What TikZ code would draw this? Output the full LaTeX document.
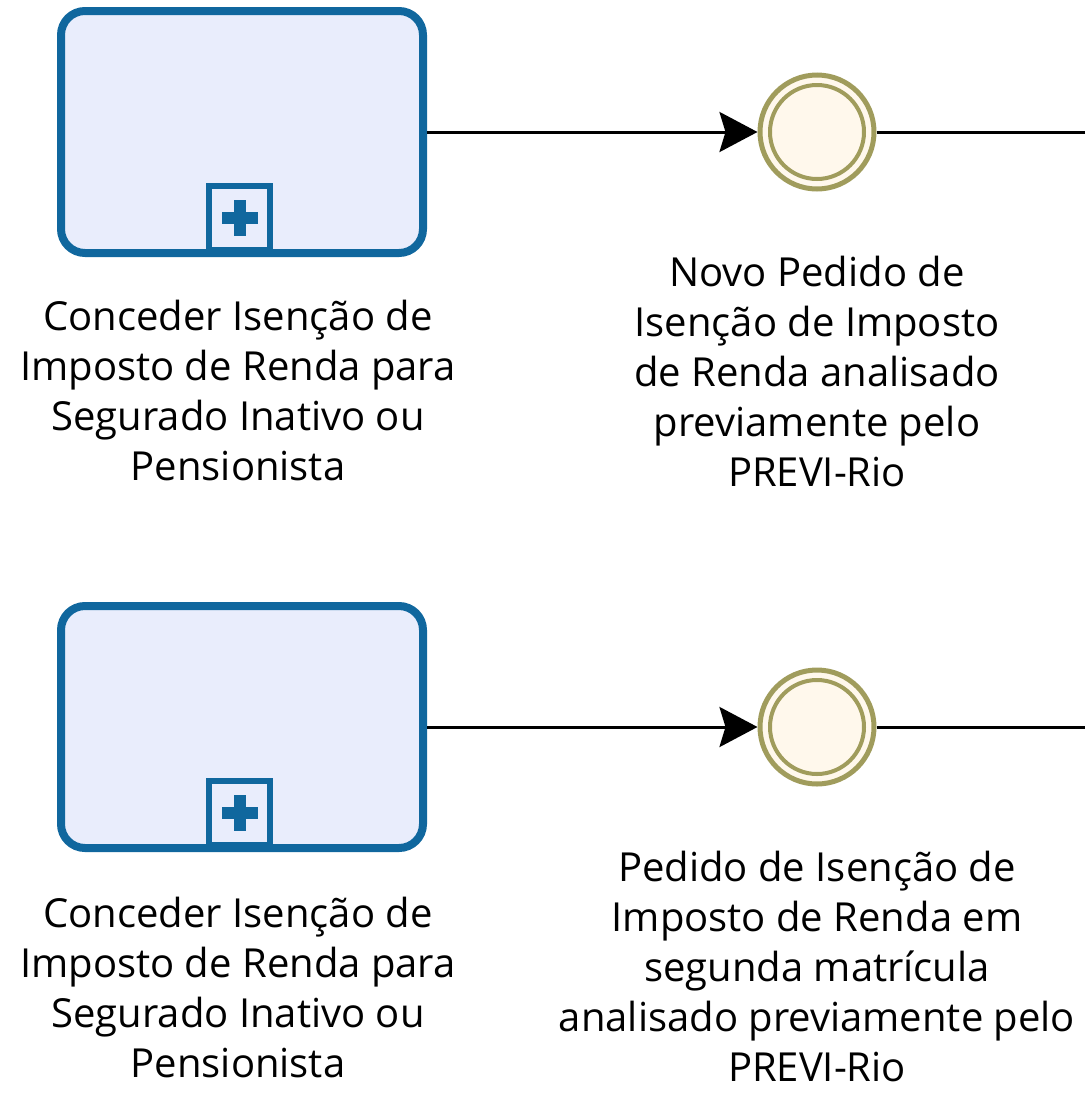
\documentclass[tikz,border=0pt]{standalone}
\usepackage{fontspec}
\setmainfont{Open Sans}
\usetikzlibrary{arrows.meta}
\definecolor{taskfill}{HTML}{E9EDFC}
\definecolor{taskline}{HTML}{10679E}
\definecolor{evfill}{HTML}{FFF8EC}
\definecolor{evline}{HTML}{A09C5C}
\begin{document}
\begin{tikzpicture}[x=1pt,y=-1pt,
  task/.style={draw=taskline,fill=taskfill,line width=8pt,rounded corners=24pt,minimum width=362pt,minimum height=242pt,inner sep=0pt},
  marker/.style={draw=taskline,fill=taskfill,line width=6pt,minimum width=61pt,minimum height=64pt,inner sep=0pt},
  event/.style={circle,draw=evline,fill=evfill,line width=5pt,minimum size=114pt,inner sep=0pt},
  lbl/.style={align=center,font=\fontsize{40}{50}\selectfont,text=black},
  flow/.style={line width=3pt,-{Stealth[length=38pt,width=40pt,inset=6pt]}}]
\useasboundingbox (0,0) rectangle (1085,1106);
% row 1
\node[task] (t1) at (242,132) {};
\node[marker] (m1) at (239.5,218) {};
\fill[taskline] (m1.center) ++(-18,-6) rectangle ++(36,12);
\fill[taskline] (m1.center) ++(-6,-18) rectangle ++(12,36);
\node[event] (e1) at (817,132) {};
\draw[evline,line width=4pt] (e1.center) circle (47);
\coordinate (r1) at (1085,132);
\draw[flow] (t1.east) -- (e1.west);
\draw[line width=3pt] (e1.east) -- (r1);
\node[lbl] (l1) at (238,390) {Conceder Isenção de\\Imposto de Renda para\\Segurado Inativo ou\\Pensionista};
\node[lbl] (k1) at (817,371) {Novo Pedido de\\Isenção de Imposto\\de Renda analisado\\previamente pelo\\PREVI-Rio};
% row 2
\node[task] (t2) at (242,727) {};
\node[marker] (m2) at (239.5,813) {};
\fill[taskline] (m2.center) ++(-18,-6) rectangle ++(36,12);
\fill[taskline] (m2.center) ++(-6,-18) rectangle ++(12,36);
\node[event] (e2) at (817,727) {};
\draw[evline,line width=4pt] (e2.center) circle (47);
\coordinate (r2) at (1085,727);
\draw[flow] (t2.east) -- (e2.west);
\draw[line width=3pt] (e2.east) -- (r2);
\node[lbl] (l2) at (238,987) {Conceder Isenção de\\Imposto de Renda para\\Segurado Inativo ou\\Pensionista};
\node[lbl] (k2) at (817,966) {Pedido de Isenção de\\Imposto de Renda em\\segunda matrícula\\analisado previamente pelo\\PREVI-Rio};
\end{tikzpicture}
\end{document}
